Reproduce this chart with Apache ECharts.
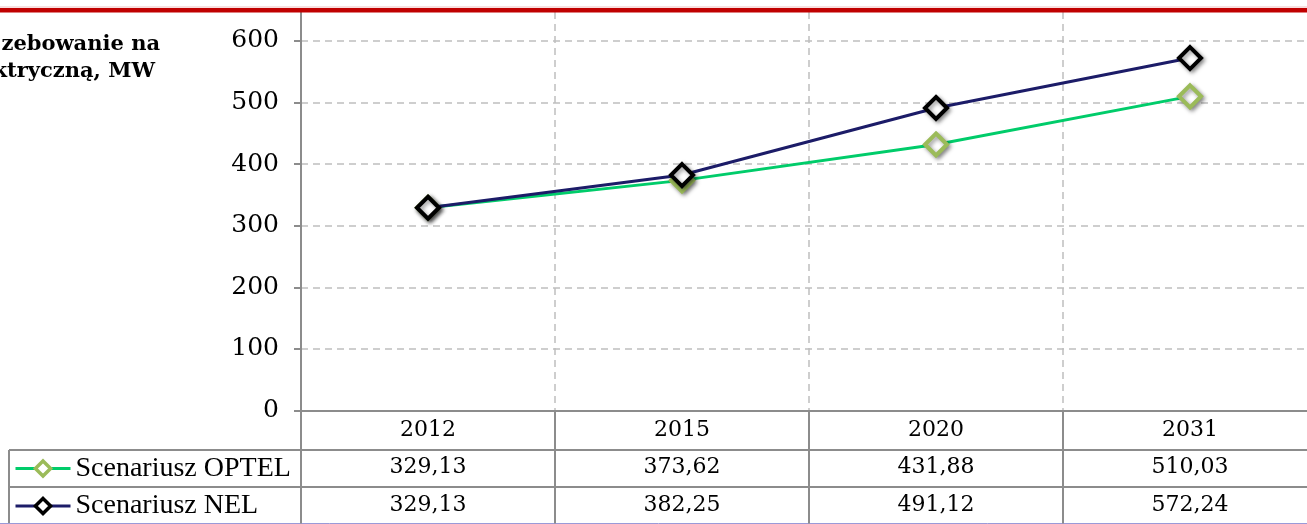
<!DOCTYPE html>
<html>
<head>
<meta charset="utf-8">
<script src="https://cdn.jsdelivr.net/npm/echarts@6/dist/echarts.min.js"></script>
<style>
  html, body { margin: 0; padding: 0; background: #fff; overflow: hidden; }
  /* the plot runs a little past the right edge, as in the cropped original */
  #main { width: 1317px; height: 524px; }
</style>
</head>
<body>
<div id="main"></div>
<script>
var years = ['2012', '2015', '2020', '2031'];
var optel = [329.13, 373.62, 431.88, 510.03];
var nel = [329.13, 382.25, 491.12, 572.24];
var seriesNames = ['Scenariusz OPTEL', 'Scenariusz NEL'];
var titleLines = ['zebowanie na', 'ktryczną, MW'];

function fmt(v) {
  return v.toFixed(2).replace('.', ',')
}

var chart = echarts.init(document.getElementById('main'), null, { renderer: 'canvas' });

var serif = '"DejaVu Serif", "Liberation Serif", serif';
var gridCol = '#bfbfbf';
var axisCol = '#8c8c8c';
var W = 1317;

var option = {
  backgroundColor: '#fff',
  animation: false,
  grid: { left: 301, right: 0, top: 12, bottom: 113, containLabel: false },
  legend: {
    orient: 'vertical',
    left: 14,
    top: 453,
    height: 71,
    padding: 0,
    itemWidth: 55,
    itemHeight: 19,
    itemGap: 6.5,
    lineStyle: { width: 3 },
    itemStyle: { borderWidth: 3.5, shadowBlur: 0, shadowOffsetX: 0, shadowOffsetY: 0 },
    textStyle: { fontFamily: '"Liberation Serif", serif', fontSize: 28, lineHeight: 31, color: '#000' },
    data: seriesNames
  },
  xAxis: {
    type: 'category',
    data: years,
    boundaryGap: true,
    axisLine: { lineStyle: { color: axisCol, width: 2 } },
    axisTick: { show: true, length: 113, lineStyle: { color: axisCol, width: 2 } },
    splitLine: { show: true, lineStyle: { color: gridCol, width: 1.5, type: [7, 5] } },
    axisLabel: {
      interval: 0,
      margin: 1,
      formatter: function (val, idx) {
        return val + '\n' + fmt(optel[idx]) + '\n' + fmt(nel[idx])
      },
      fontFamily: serif,
      fontSize: 22,
      lineHeight: 37.5,
      color: '#000'
    }
  },
  yAxis: {
    type: 'value',
    min: 0,
    max: 647,
    interval: 100,
    axisLine: { show: true, lineStyle: { color: axisCol, width: 2 } },
    axisTick: { show: true, length: 7, lineStyle: { color: axisCol, width: 2 } },
    splitLine: { show: true, showMaxLine: false, lineStyle: { color: gridCol, width: 1.5, type: [7, 5] } },
    axisLabel: { showMaxLabel: false, margin: 22, fontFamily: serif, fontSize: 25, color: '#000' }
  },
  series: [
    {
      name: seriesNames[0],
      type: 'line',
      data: optel,
      symbol: 'diamond',
      symbolSize: 22,
      lineStyle: { color: '#00cc6a', width: 3 },
      itemStyle: {
        color: '#fff', borderColor: '#9bbb59', borderWidth: 4,
        shadowBlur: 4, shadowColor: 'rgba(0,0,0,0.4)', shadowOffsetX: 2, shadowOffsetY: 2
      },
      z: 3
    },
    {
      name: seriesNames[1],
      type: 'line',
      data: nel,
      symbol: 'diamond',
      symbolSize: 22,
      lineStyle: { color: '#1c1c68', width: 3 },
      itemStyle: {
        color: '#fff', borderColor: '#000', borderWidth: 4,
        shadowBlur: 4, shadowColor: 'rgba(0,0,0,0.4)', shadowOffsetX: 2, shadowOffsetY: 2
      },
      z: 4
    }
  ],
  graphic: [
    // red rule at the top
    { type: 'rect', shape: { x: 0, y: 6.5, width: W, height: 1 }, style: { fill: '#f0c0c0' }, z: 10 },
    { type: 'rect', shape: { x: 0, y: 8, width: W, height: 4.5 }, style: { fill: '#c00000' }, z: 10 },
    // title (cut off at left)
    { type: 'text', right: W - 160, top: 34, style: { text: titleLines[0], font: 'bold 21px ' + serif, fill: '#000', textAlign: 'right' } },
    { type: 'text', right: W - 155, top: 61, style: { text: titleLines[1], font: 'bold 21px ' + serif, fill: '#000', textAlign: 'right' } },
    // data table lines
    { type: 'line', shape: { x1: 9, y1: 450, x2: W, y2: 450 }, style: { stroke: axisCol, lineWidth: 2 } },
    { type: 'line', shape: { x1: 9, y1: 487, x2: W, y2: 487 }, style: { stroke: axisCol, lineWidth: 2 } },
    { type: 'line', shape: { x1: 9, y1: 450, x2: 9, y2: 524 }, style: { stroke: axisCol, lineWidth: 2 } },
    { type: 'line', shape: { x1: 0, y1: 523.5, x2: W, y2: 523.5 }, style: { stroke: '#9a9ad8', lineWidth: 1 } }
  ]
};

chart.setOption(option);
</script>
</body>
</html>
